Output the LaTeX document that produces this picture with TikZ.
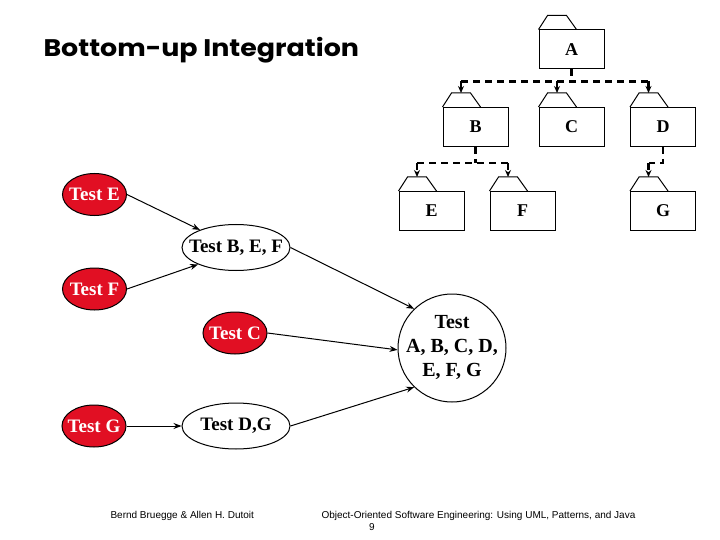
\documentclass[tikz,border=0pt]{standalone}
\usepackage{fontspec}
\setmainfont{Liberation Serif}
\newfontfamily\titlefont[FakeStretch=1.12]{Poppins}
\newfontfamily\footfont{Liberation Sans}
\usetikzlibrary{shapes.geometric,arrows.meta}
\definecolor{testred}{RGB}{225,15,35}

% text without width, so the ellipse keeps its own size
\newcommand{\tx}[1]{\makebox[0pt]{#1}}
% package box with its tab
\newcommand{\folder}[3]{%
  \node[pkgbox] (#1) at (#2) {#3};%
  \draw[pkgline] (#1.north west) -- ++(9,-14) -- ++(19,0) coordinate[pos=0.5] (#1tab) -- ++(10,14);%
}

\begin{document}
\begin{tikzpicture}[x=1pt,y=-1pt,
    pkgbox/.style={draw,line width=1pt,minimum width=65pt,minimum height=39pt,inner sep=0pt,
      font=\fontsize{18}{18}\selectfont\bfseries},
    pkgline/.style={line width=1pt},
    dep/.style={line width=2.4pt,dash pattern=on 7pt off 5pt},
    deparrow/.style={dep,-{Stealth[length=7pt,width=6pt]}},
    redtest/.style={ellipse,draw,line width=1pt,fill=testred,text=white,inner sep=0pt,
      minimum width=64pt,minimum height=42pt,font=\fontsize{19}{19}\selectfont\bfseries},
    test/.style={ellipse,draw,line width=1pt,fill=white,inner sep=0pt,
      minimum width=108pt,minimum height=46pt,font=\fontsize{19}{19}\selectfont\bfseries},
    flow/.style={line width=1pt,-{Stealth[length=8pt,width=6pt]}}]
  \useasboundingbox (0,0) rectangle (720,540);

  \node[anchor=west,font=\titlefont\bfseries\fontsize{24}{24}\selectfont] (title) at (40,50) {Bottom-up Integration};

  % package hierarchy
  \folder{A}{571.5,49.5}{A}
  \folder{B}{475.5,127}{B}
  \folder{C}{571.5,127}{C}
  \folder{D}{663,127}{D}
  \folder{E}{431.5,211}{E}
  \folder{F}{522.5,211}{F}
  \folder{G}{663,211}{G}

  \draw[dep] (A.south) -- ++(0,12) coordinate (Ajoin);
  \draw[dep] (Btab |- Ajoin) -- (Dtab |- Ajoin);
  \foreach \p in {B,C,D}
    \draw[deparrow] (\p tab |- Ajoin) -- (\p tab);

  \draw[dep] (B.south) -- ++(0,16) coordinate (Bjoin);
  \draw[dep] (Etab |- Bjoin) -- (Ftab |- Bjoin);
  \foreach \p in {E,F}
    \draw[deparrow] (\p tab |- Bjoin) -- (\p tab);

  \draw[dep] (D.south) -- ++(0,16) coordinate (Djoin) -- (Gtab |- Djoin);
  \draw[deparrow] (Gtab |- Djoin) -- (Gtab);

  % tests
  \node[redtest] (tE) at (94.5,194.5) {\tx{Test E}};
  \node[redtest] (tF) at (94.5,289) {\tx{Test F}};
  \node[redtest] (tC) at (235,333) {\tx{Test C}};
  \node[redtest] (tG) at (94,426) {\tx{Test G}};
  \node[test] (tBEF) at (236,247.5) {\tx{Test B, E, F}};
  \node[test] (tDG) at (236,426) {\tx{Test D,G}};
  \node[test,circle,minimum size=108pt,font=\fontsize{20}{24}\selectfont\bfseries] (tAll) at (452,348)
    {\tx{\begin{tabular}{@{}c@{}}Test\\A, B, C, D,\\E, F, G\end{tabular}}};

  \draw[flow] (tE.east) -- (tBEF.154);
  \draw[flow] (tF.east) -- (tBEF.204);
  \draw[flow] (tBEF.east) -- (tAll.134);
  \draw[flow] (tC.east) -- (tAll.182);
  \draw[flow] (tG.east) -- (tDG.west);
  \draw[flow] (tDG.east) -- (tAll.226);

  % footer
  \node[anchor=base west,font=\footfont\fontsize{10}{10}\selectfont] (auth) at (107,518) {Bernd Bruegge \& Allen H.\ Dutoit};
  \node[anchor=base west,font=\footfont\fontsize{10}{10}\selectfont] (book) at (318,518) {Object-Oriented Software Engineering: Using UML, Patterns, and Java};
  \node[anchor=base,font=\footfont\fontsize{10}{10}\selectfont] (page) at (372,530) {9};
\end{tikzpicture}
\end{document}
